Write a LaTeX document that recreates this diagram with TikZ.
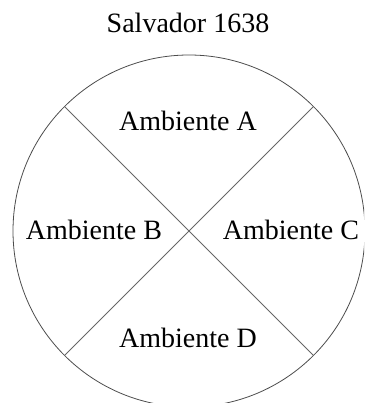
\documentclass[tikz,border=0pt]{standalone}
\usepackage{fontspec}
\setmainfont{Liberation Serif}
\usepackage{xcolor}
\usepackage{tikz}
\usetikzlibrary{shapes.geometric, calc}
\colorlet{rim-color}{black!70}
\colorlet{split-color}{black!60}
\tikzset{
    plan/.style = {circle, draw=rim-color, line width=0.8pt, inner sep=0pt, minimum size=352pt},
    split/.style = {draw=split-color, line width=0.8pt},
    room/.style = {anchor=base, inner sep=0pt, font=\fontsize{28}{34}\selectfont},
}

\begin{document}
\begin{tikzpicture}[x=1pt,y=1pt]

\useasboundingbox (0,0) rectangle (364,403);
\clip (0,0) rectangle (364,403);

\node[room] (title) at (188,370) {Salvador 1638};

\node[plan] (house) at (189,172) {};
\draw[split] (house.135) -- (house.-45);
\draw[split] (house.45) -- (house.-135);

\node[room] (A) at (188,272) {Ambiente A};
\node[room] (B) at (94,163) {Ambiente B};
\node[room] (C) at (291,163) {Ambiente C};
\node[room] (D) at (188,55) {Ambiente D};

\end{tikzpicture}
\end{document}
